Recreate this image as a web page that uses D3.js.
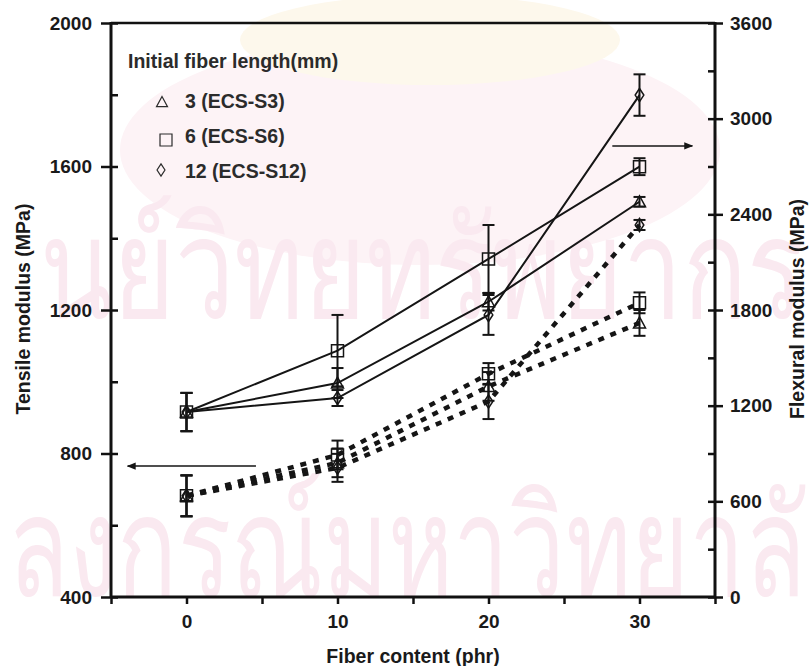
<!DOCTYPE html>
<html>
<head>
<meta charset="utf-8">
<script src="https://cdn.jsdelivr.net/npm/d3@7"></script>
<style>
  body { margin: 0; background: #fff; }
  text { font-family: "Liberation Sans", Arial, sans-serif; }
</style>
</head>
<body>
<svg id="chart" width="810" height="666"></svg>
<script>
// fiber content (phr)
const fiber = [0, 10, 20, 30];

// tensile modulus (MPa), dashed lines, left axis
const tensileS3 = [682, 774, 987, 1164];
const tensileS6 = [682, 796, 1022, 1220];
const tensileS12 = [682, 760, 945, 1437];
const tensileErrS3 = [57, 40, 40, 36];
const tensileErrS6 = [57, 40, 30, 29];
const tensileErrS12 = [57, 39, 49, 14];

// flexural modulus (MPa), solid lines, right axis
const flexuralS3 = [1160, 1342, 1852, 2479];
const flexuralS6 = [1160, 1545, 2120, 2699];
const flexuralS12 = [1160, 1248, 1769, 3148];
const flexuralErrS3 = [120, 94, 55, 30];
const flexuralErrS6 = [120, 224, 213, 53];
const flexuralErrS12 = [120, 50, 125, 130];

const leftTicks = [400, 800, 1200, 1600, 2000];
const rightTicks = [0, 600, 1200, 1800, 2400, 3000, 3600];
const xTicks = [0, 10, 20, 30];
const xMinorTicks = [-5, 5, 15, 25, 35];

const legendTitle = "Initial fiber length(mm)";
const legendLabels = ["3 (ECS-S3)", "6 (ECS-S6)", "12 (ECS-S12)"];
const shapes = ["triangle", "square", "diamond"];

const svg = d3.select("#chart");

const x = d3.scaleLinear().domain([-5, 35]).range([111, 715]);
const yL = d3.scaleLinear().domain([400, 2000]).range([597, 23]);
const yR = d3.scaleLinear().domain([0, 3600]).range([597, 23]);

// faint scan watermark in the background
const wm = svg.append("g")
  .style("font-family", "'Noto Sans Thai', Loma, Garuda, 'DejaVu Sans', sans-serif");
wm.append("ellipse").attr("cx", 420).attr("cy", 150).attr("rx", 300).attr("ry", 115).attr("fill", "#fdf3f6");
wm.append("ellipse").attr("cx", 430).attr("cy", 40).attr("rx", 190).attr("ry", 45).attr("fill", "#fdf8ec");
wm.append("text").attr("x", 40).attr("y", 318).attr("fill", "#fae9f0")
  .attr("font-size", 140).attr("textLength", 764).attr("lengthAdjust", "spacingAndGlyphs")
  .text("นย์วิทยทรัพยากร");
wm.append("text").attr("x", 8).attr("y", 596).attr("fill", "#fae9f0")
  .attr("font-size", 140).attr("textLength", 798).attr("lengthAdjust", "spacingAndGlyphs")
  .text("ลงกรณ์มหาวิทยาลั");

// shape path centered at 0,0
function shapePath(type, s) {
  const p = d3.path();
  if (type === "square") {
    p.rect(-s / 2, -s / 2, s, s);
  } else if (type === "triangle") {
    p.moveTo(0, -s * 0.5);
    p.lineTo(s * 0.5, s * 0.42);
    p.lineTo(-s * 0.5, s * 0.42);
    p.closePath();
  } else {
    p.moveTo(0, -s * 0.55);
    p.lineTo(s * 0.36, 0);
    p.lineTo(0, s * 0.55);
    p.lineTo(-s * 0.36, 0);
    p.closePath();
  }
  return p.toString();
}

// axes
function styleAxis(g) {
  g.select(".domain").remove();
  g.selectAll(".tick line").attr("stroke", "#111").attr("stroke-width", 2.5);
  g.selectAll(".tick text").attr("fill", "#1a1a1a").style("font-size", "19px").style("font-weight", "bold");
}

svg.append("g").attr("transform", "translate(111,0)")
  .call(d3.axisLeft(yL).tickValues(leftTicks).tickSize(10).tickPadding(9).tickFormat(d3.format("d")))
  .call(styleAxis);
svg.append("g").attr("transform", "translate(111,0)")
  .call(d3.axisRight(yL).tickValues(d3.range(400, 2001, 200)).tickSize(7).tickFormat(""))
  .call(styleAxis);

svg.append("g").attr("transform", "translate(715,0)")
  .call(d3.axisRight(yR).tickValues(rightTicks).tickSize(8).tickPadding(7).tickFormat(d3.format("d")))
  .call(styleAxis);
svg.append("g").attr("transform", "translate(715,0)")
  .call(d3.axisLeft(yR).tickValues(d3.range(0, 3601, 300)).tickSize(7).tickFormat(""))
  .call(styleAxis);

svg.append("g").attr("transform", "translate(0,597)")
  .call(d3.axisBottom(x).tickValues(xTicks).tickSize(7).tickPadding(11).tickFormat(d3.format("d")))
  .call(styleAxis);
svg.append("g").attr("transform", "translate(0,597)")
  .call(d3.axisBottom(x).tickValues(xMinorTicks).tickSize(7).tickFormat(""))
  .call(styleAxis);

// frame
const frame = svg.append("g").attr("stroke", "#111").attr("fill", "none");
frame.append("line").attr("x1", x(-5)).attr("x2", x(35)).attr("y1", yL(2000)).attr("y2", yL(2000)).attr("stroke-width", 2.5);
frame.append("line").attr("x1", x(-5)).attr("x2", x(35)).attr("y1", yL(400)).attr("y2", yL(400)).attr("stroke-width", 3);
frame.append("line").attr("x1", x(-5)).attr("x2", x(-5)).attr("y1", yL(2000) - 1).attr("y2", yL(400) + 1).attr("stroke-width", 3);
frame.append("line").attr("x1", x(35)).attr("x2", x(35)).attr("y1", yL(2000) - 1).attr("y2", yL(400) + 1).attr("stroke-width", 3);

// series
const series = [
  { vals: tensileS3, err: tensileErrS3, y: yL, shape: "triangle", dashed: true },
  { vals: tensileS6, err: tensileErrS6, y: yL, shape: "square", dashed: true },
  { vals: tensileS12, err: tensileErrS12, y: yL, shape: "diamond", dashed: true },
  { vals: flexuralS3, err: flexuralErrS3, y: yR, shape: "triangle", dashed: false },
  { vals: flexuralS6, err: flexuralErrS6, y: yR, shape: "square", dashed: false },
  { vals: flexuralS12, err: flexuralErrS12, y: yR, shape: "diamond", dashed: false }
];

const plot = svg.append("g");
series.forEach((s) => {
  const pts = fiber.map((f, i) => ({ f: f, v: s.vals[i], e: s.err[i] }));
  const line = d3.line().x((d) => x(d.f)).y((d) => s.y(d.v));
  plot.append("path")
    .datum(pts)
    .attr("d", line)
    .attr("fill", "none")
    .attr("stroke", "#151515")
    .attr("stroke-width", s.dashed ? 4.5 : 2)
    .attr("stroke-dasharray", s.dashed ? "6,7" : null)
    .attr("stroke-dashoffset", s.dashed ? -14 : null);

  const eb = plot.append("g").attr("stroke", "#151515").attr("stroke-width", 2);
  pts.forEach((d) => {
    const cx = x(d.f);
    eb.append("line").attr("x1", cx).attr("x2", cx).attr("y1", s.y(d.v - d.e)).attr("y2", s.y(d.v + d.e));
    eb.append("line").attr("x1", cx - 6).attr("x2", cx + 6).attr("y1", s.y(d.v - d.e)).attr("y2", s.y(d.v - d.e));
    eb.append("line").attr("x1", cx - 6).attr("x2", cx + 6).attr("y1", s.y(d.v + d.e)).attr("y2", s.y(d.v + d.e));
  });

  plot.selectAll(null)
    .data(pts)
    .enter()
    .append("path")
    .attr("transform", (d) => `translate(${x(d.f)},${s.y(d.v)})`)
    .attr("d", shapePath(s.shape, 12))
    .attr("fill", "none")
    .attr("stroke", "#151515")
    .attr("stroke-width", 1.5);
});

// legend
const legend = svg.append("g").attr("fill", "#2b2b2b").style("font-size", "19.5px").style("font-weight", "bold");
legend.append("text").attr("x", 128).attr("y", 68).text(legendTitle);
legendLabels.forEach((lab, i) => {
  legend.append("text").attr("x", 185).attr("y", 108 + i * 35).text(lab);
});
const legendSymY = [102, 140, 170];
const legendSymX = [162, 166, 161];
shapes.forEach((sh, i) => {
  legend.append("path")
    .attr("transform", `translate(${legendSymX[i]},${legendSymY[i]})`)
    .attr("d", shapePath(sh, sh === "square" ? 12 : 11))
    .attr("fill", "none")
    .attr("stroke", "#2b2b2b")
    .attr("stroke-width", 1.2);
});

// arrows pointing at the axes
const defs = svg.append("defs");
defs.append("marker")
  .attr("id", "arrow")
  .attr("viewBox", "0 0 10 10")
  .attr("refX", 9).attr("refY", 5)
  .attr("markerWidth", 9).attr("markerHeight", 9)
  .attr("markerUnits", "userSpaceOnUse")
  .attr("orient", "auto")
  .append("path").attr("d", "M0,1 L10,5 L0,9 Z").attr("fill", "#151515");

svg.append("line")
  .attr("x1", x(4.6)).attr("x2", x(-3.9))
  .attr("y1", yL(765)).attr("y2", yL(765))
  .attr("stroke", "#151515").attr("stroke-width", 1.5)
  .attr("marker-end", "url(#arrow)");
svg.append("line")
  .attr("x1", x(28.2)).attr("x2", x(33.5))
  .attr("y1", yR(2829)).attr("y2", yR(2829))
  .attr("stroke", "#151515").attr("stroke-width", 1.5)
  .attr("marker-end", "url(#arrow)");

// axis titles
const titles = svg.append("g").attr("fill", "#1a1a1a").style("font-size", "19.5px").style("font-weight", "bold");
titles.append("text")
  .attr("transform", "translate(30,309) rotate(-90)")
  .attr("text-anchor", "middle")
  .text("Tensile modulus (MPa)");
titles.append("text")
  .attr("transform", "translate(804,309) rotate(-90)")
  .attr("text-anchor", "middle")
  .text("Flexural modulus (MPa)");
titles.append("text")
  .attr("x", 413).attr("y", 663)
  .attr("text-anchor", "middle")
  .text("Fiber content (phr)");
</script>
</body>
</html>
